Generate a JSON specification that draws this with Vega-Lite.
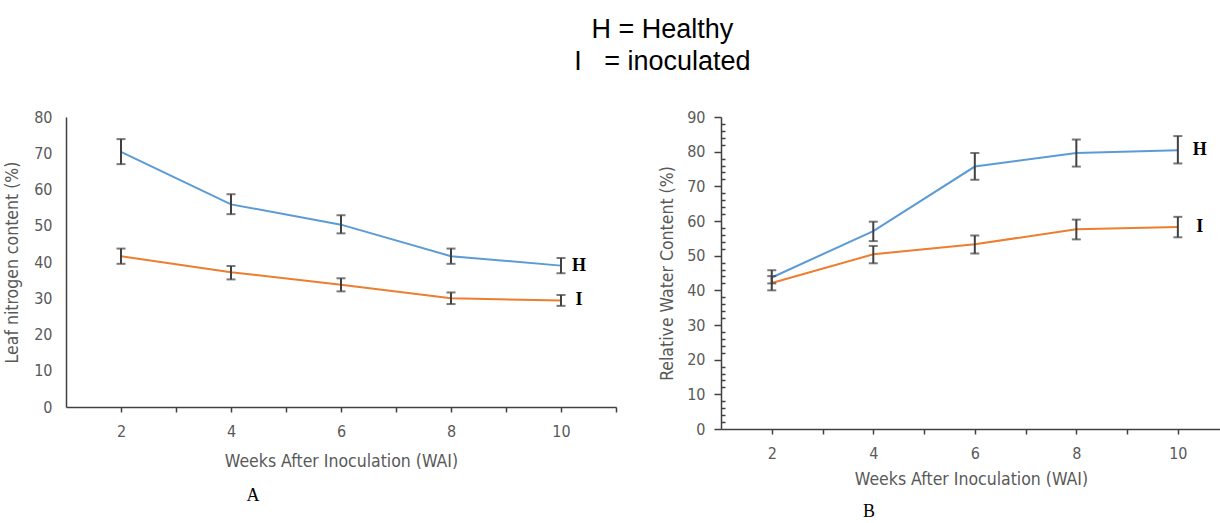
{
  "$schema": "https://vega.github.io/schema/vega-lite/v6.json",
  "padding": {"left": 3, "top": 16, "right": 0, "bottom": 0},
  "title": {
    "text": "H = Healthy",
    "subtitle": "I\u00a0\u00a0\u00a0= inoculated",
    "font": "Liberation Sans",
    "subtitleFont": "Liberation Sans",
    "fontSize": 27,
    "subtitleFontSize": 27,
    "fontWeight": "normal",
    "color": "#000000",
    "subtitleColor": "#000000",
    "anchor": "middle",
    "dx": 50,
    "subtitlePadding": 5,
    "offset": 33
  },
  "datasets": {
    "left": [
      {"week": 2, "group": "H", "value": 70.4, "lo": 67.0, "hi": 73.9},
      {"week": 4, "group": "H", "value": 55.9, "lo": 53.2, "hi": 58.7},
      {"week": 6, "group": "H", "value": 50.3, "lo": 47.9, "hi": 52.9},
      {"week": 8, "group": "H", "value": 41.6, "lo": 39.5, "hi": 43.7},
      {"week": 10, "group": "H", "value": 39.0, "lo": 36.9, "hi": 41.1},
      {"week": 2, "group": "I", "value": 41.6, "lo": 39.5, "hi": 43.7},
      {"week": 4, "group": "I", "value": 37.2, "lo": 35.2, "hi": 38.9},
      {"week": 6, "group": "I", "value": 33.7, "lo": 31.9, "hi": 35.5},
      {"week": 8, "group": "I", "value": 30.0, "lo": 28.4, "hi": 31.6},
      {"week": 10, "group": "I", "value": 29.4, "lo": 27.9, "hi": 30.9}
    ],
    "right": [
      {"week": 2, "group": "H", "value": 43.7, "lo": 42.0, "hi": 45.8},
      {"week": 4, "group": "H", "value": 57.1, "lo": 54.2, "hi": 59.8},
      {"week": 6, "group": "H", "value": 75.7, "lo": 71.9, "hi": 79.6},
      {"week": 8, "group": "H", "value": 79.6, "lo": 75.7, "hi": 83.5},
      {"week": 10, "group": "H", "value": 80.4, "lo": 76.6, "hi": 84.5},
      {"week": 2, "group": "I", "value": 42.1, "lo": 40.0, "hi": 44.1},
      {"week": 4, "group": "I", "value": 50.4, "lo": 47.8, "hi": 52.8},
      {"week": 6, "group": "I", "value": 53.3, "lo": 50.6, "hi": 55.8},
      {"week": 8, "group": "I", "value": 57.6, "lo": 54.7, "hi": 60.4},
      {"week": 10, "group": "I", "value": 58.3, "lo": 55.3, "hi": 61.2}
    ]
  },
  "spacing": 41,
  "hconcat": [
    {
      "width": 550,
      "height": 290,
      "data": {"name": "left"},
      "title": {"text": "A", "orient": "bottom", "font": "Liberation Serif", "fontSize": 18, "fontWeight": "normal", "color": "#000000", "dx": -88, "offset": 17},
      "layer": [
        {
          "mark": {"type": "line", "strokeWidth": 2},
          "encoding": {
            "x": {"field": "week", "type": "quantitative", "scale": {"domain": [1, 11], "nice": false},
              "axis": {"title": "Weeks After Inoculation (WAI)", "values": [2, 3, 4, 5, 6, 7, 8, 9, 10, 11], "labelExpr": "datum.value % 2 === 0 ? datum.label : ''", "grid": false, "tickSize": 5, "labelPadding": 11, "titlePadding": 13}},
            "y": {"field": "value", "type": "quantitative", "scale": {"domain": [0, 80], "nice": false},
              "axis": {"title": "Leaf nitrogen content (%)", "values": [0, 10, 20, 30, 40, 50, 60, 70, 80], "ticks": false, "grid": false, "labelPadding": 14, "titlePadding": 12}},
            "color": {"field": "group", "type": "nominal", "scale": {"domain": ["H", "I"], "range": ["#5B9BD5", "#ED7D31"]}, "legend": null}
          }
        },
        {
          "mark": {"type": "errorbar", "ticks": {"size": 9, "thickness": 2}, "thickness": 2, "color": "#404040"},
          "encoding": {
            "x": {"field": "week", "type": "quantitative",
              "axis": {"title": "Weeks After Inoculation (WAI)", "values": [2, 3, 4, 5, 6, 7, 8, 9, 10, 11], "labelExpr": "datum.value % 2 === 0 ? datum.label : ''", "grid": false, "tickSize": 5, "labelPadding": 11, "titlePadding": 13}},
            "y": {"field": "lo", "type": "quantitative",
              "axis": {"title": "Leaf nitrogen content (%)", "values": [0, 10, 20, 30, 40, 50, 60, 70, 80], "ticks": false, "grid": false, "labelPadding": 14, "titlePadding": 12}},
            "y2": {"field": "hi"},
            "detail": {"field": "group"}
          }
        },
        {
          "transform": [{"filter": "datum.week === 10"}],
          "mark": {"type": "text", "dx": 18, "align": "center", "baseline": "middle", "font": "Liberation Serif", "fontWeight": "bold", "fontSize": 18, "color": "#000000"},
          "encoding": {
            "x": {"field": "week", "type": "quantitative",
              "axis": {"title": "Weeks After Inoculation (WAI)", "values": [2, 3, 4, 5, 6, 7, 8, 9, 10, 11], "labelExpr": "datum.value % 2 === 0 ? datum.label : ''", "grid": false, "tickSize": 5, "labelPadding": 11, "titlePadding": 13}},
            "y": {"field": "value", "type": "quantitative",
              "axis": {"title": "Leaf nitrogen content (%)", "values": [0, 10, 20, 30, 40, 50, 60, 70, 80], "ticks": false, "grid": false, "labelPadding": 14, "titlePadding": 12}},
            "text": {"field": "group"}
          }
        }
      ]
    },
    {
      "width": 500,
      "height": 312,
      "data": {"name": "right"},
      "title": {"text": "B", "orient": "bottom", "font": "Liberation Serif", "fontSize": 18, "fontWeight": "normal", "color": "#000000", "dx": -102, "offset": 15},
      "layer": [
        {
          "mark": {"type": "line", "strokeWidth": 2},
          "encoding": {
            "x": {"field": "week", "type": "quantitative", "scale": {"domain": [1, 10.85], "nice": false},
              "axis": {"title": "Weeks After Inoculation (WAI)", "values": [2, 3, 4, 5, 6, 7, 8, 9, 10], "labelExpr": "datum.value % 2 === 0 ? datum.label : ''", "grid": false, "tickSize": 5, "labelPadding": 11, "titlePadding": 9}},
            "y": {"field": "value", "type": "quantitative", "scale": {"domain": [0, 90], "nice": false},
              "axis": {"title": "Relative Water Content (%)", "values": [0, 2, 4, 6, 8, 10, 12, 14, 16, 18, 20, 22, 24, 26, 28, 30, 32, 34, 36, 38, 40, 42, 44, 46, 48, 50, 52, 54, 56, 58, 60, 62, 64, 66, 68, 70, 72, 74, 76, 78, 80, 82, 84, 86, 88, 90],
                "labelExpr": "datum.value % 10 === 0 ? datum.label : ''",
                "tickSize": {"condition": {"test": "datum.value % 10 === 0", "value": 7}, "value": -4},
                "grid": false, "labelPadding": 9, "titlePadding": 10}},
            "color": {"field": "group", "type": "nominal", "scale": {"domain": ["H", "I"], "range": ["#5B9BD5", "#ED7D31"]}, "legend": null}
          }
        },
        {
          "mark": {"type": "errorbar", "ticks": {"size": 9, "thickness": 2}, "thickness": 2, "color": "#404040"},
          "encoding": {
            "x": {"field": "week", "type": "quantitative",
              "axis": {"title": "Weeks After Inoculation (WAI)", "values": [2, 3, 4, 5, 6, 7, 8, 9, 10], "labelExpr": "datum.value % 2 === 0 ? datum.label : ''", "grid": false, "tickSize": 5, "labelPadding": 11, "titlePadding": 9}},
            "y": {"field": "lo", "type": "quantitative",
              "axis": {"title": "Relative Water Content (%)", "values": [0, 2, 4, 6, 8, 10, 12, 14, 16, 18, 20, 22, 24, 26, 28, 30, 32, 34, 36, 38, 40, 42, 44, 46, 48, 50, 52, 54, 56, 58, 60, 62, 64, 66, 68, 70, 72, 74, 76, 78, 80, 82, 84, 86, 88, 90],
                "labelExpr": "datum.value % 10 === 0 ? datum.label : ''",
                "tickSize": {"condition": {"test": "datum.value % 10 === 0", "value": 7}, "value": -4},
                "grid": false, "labelPadding": 9, "titlePadding": 10}},
            "y2": {"field": "hi"},
            "detail": {"field": "group"}
          }
        },
        {
          "transform": [{"filter": "datum.week === 10"}],
          "mark": {"type": "text", "dx": 22, "align": "center", "baseline": "middle", "font": "Liberation Serif", "fontWeight": "bold", "fontSize": 18, "color": "#000000"},
          "encoding": {
            "x": {"field": "week", "type": "quantitative",
              "axis": {"title": "Weeks After Inoculation (WAI)", "values": [2, 3, 4, 5, 6, 7, 8, 9, 10], "labelExpr": "datum.value % 2 === 0 ? datum.label : ''", "grid": false, "tickSize": 5, "labelPadding": 11, "titlePadding": 9}},
            "y": {"field": "value", "type": "quantitative",
              "axis": {"title": "Relative Water Content (%)", "values": [0, 2, 4, 6, 8, 10, 12, 14, 16, 18, 20, 22, 24, 26, 28, 30, 32, 34, 36, 38, 40, 42, 44, 46, 48, 50, 52, 54, 56, 58, 60, 62, 64, 66, 68, 70, 72, 74, 76, 78, 80, 82, 84, 86, 88, 90],
                "labelExpr": "datum.value % 10 === 0 ? datum.label : ''",
                "tickSize": {"condition": {"test": "datum.value % 10 === 0", "value": 7}, "value": -4},
                "grid": false, "labelPadding": 9, "titlePadding": 10}},
            "text": {"field": "group"}
          }
        }
      ]
    }
  ],
  "config": {
    "view": {"stroke": null},
    "axis": {
      "domainColor": "#404040",
      "domainWidth": 1.5,
      "tickColor": "#404040",
      "tickWidth": 1.5,
      "labelColor": "#595959",
      "titleColor": "#595959",
      "labelFont": "Liberation Sans Narrow, DejaVu Sans Condensed, sans-serif",
      "titleFont": "Liberation Sans Narrow, DejaVu Sans Condensed, sans-serif",
      "labelFontSize": 16,
      "titleFontSize": 17.5,
      "titleFontWeight": "normal"
    }
  }
}
